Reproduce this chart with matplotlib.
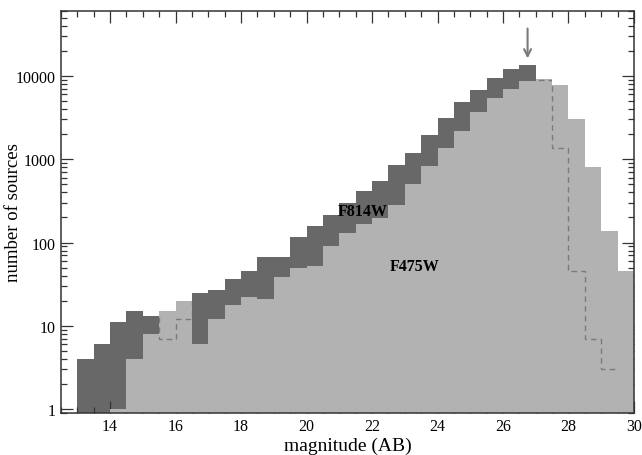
import matplotlib
matplotlib.use('Agg')
import matplotlib.pyplot as plt
import matplotlib.ticker as mticker
import numpy as np

DARK  = '#686868'
LIGHT = '#b2b2b2'
LINE  = '#7a7a7a'

plt.rcParams['font.family'] = ['Liberation Serif', 'DejaVu Serif']

# F814W counts, 0.5 mag bins from 13.0 to 29.5
f814_edges = np.arange(13.0, 29.5 + 0.01, 0.5)
f814 = [4, 6, 11, 15, 13, 7, 12, 25, 27, 37, 45, 68, 67, 118, 160, 215, 295,
        420, 550, 860, 1200, 1950, 3100, 4800, 6700, 9500, 12100, 13600,
        9000, 1370, 46, 7, 3]

# F475W counts, 0.5 mag bins from 14.0 to 30.0
f475_edges = np.arange(14.0, 30.0 + 0.01, 0.5)
f475 = [1, 4, 8, 15, 20, 6, 12, 18, 22, 21, 39, 49, 53, 90, 130, 167, 196,
        280, 510, 835, 1370, 2200, 3700, 5450, 7000, 8600, 9200, 7800, 3050,
        812, 139, 46]

fig = plt.figure(figsize=(6.42, 4.56), dpi=100)
fig.patch.set_facecolor('white')
ax = fig.add_axes([0.095, 0.092, 0.8925, 0.8816])

ax.stairs(f814, f814_edges, baseline=0.1, fill=True, color=DARK, lw=0, zorder=1)
light = ax.stairs(f475, f475_edges, baseline=0.1, fill=True, color=LIGHT, lw=0, zorder=2)
dash = ax.stairs(f814, f814_edges, baseline=None, fill=False, color=LINE,
                 lw=1.0, ls=(0, (4, 3)), zorder=3)
dash.set_clip_path(light)

ax.set_yscale('log')
ax.set_xlim(12.5, 30)
ax.set_ylim(0.9, 6e4)

ax.xaxis.set_major_locator(mticker.MultipleLocator(2))
ax.xaxis.set_minor_locator(mticker.MultipleLocator(0.5))
ax.yaxis.set_major_locator(mticker.FixedLocator([1, 10, 100, 1000, 10000]))
ax.yaxis.set_major_formatter(mticker.FuncFormatter(lambda v, p: f'{int(round(v))}'))
ax.yaxis.set_minor_locator(mticker.LogLocator(base=10, subs=np.arange(2, 10)))
ax.yaxis.set_minor_formatter(mticker.NullFormatter())

ax.tick_params(which='both', direction='in', top=True, right=True,
               color='#333333', width=0.9, labelsize=11.5)
ax.tick_params(which='major', length=8.5)
ax.tick_params(which='minor', length=4)
for s in ax.spines.values():
    s.set_linewidth(1.1)
    s.set_color('#333333')
    s.set_zorder(5)

ax.set_xlabel('magnitude (AB)', fontsize=14, labelpad=2)
ax.set_ylabel('number of sources', fontsize=13.5)
ax.yaxis.set_label_coords(-0.068, 0.5)

ax.text(21.7, 240, 'F814W', fontsize=11.5, fontweight='bold', ha='center', va='center', zorder=6)
ax.text(23.3, 52, 'F475W', fontsize=11.5, fontweight='bold', ha='center', va='center', zorder=6)

ax.annotate('', xy=(26.75, 15000), xytext=(26.75, 40000),
            arrowprops=dict(arrowstyle='->,head_length=0.5,head_width=0.25',
                            color=LINE, lw=1.5), zorder=6)

plt.savefig('out.png', dpi=100)
plt.close()
